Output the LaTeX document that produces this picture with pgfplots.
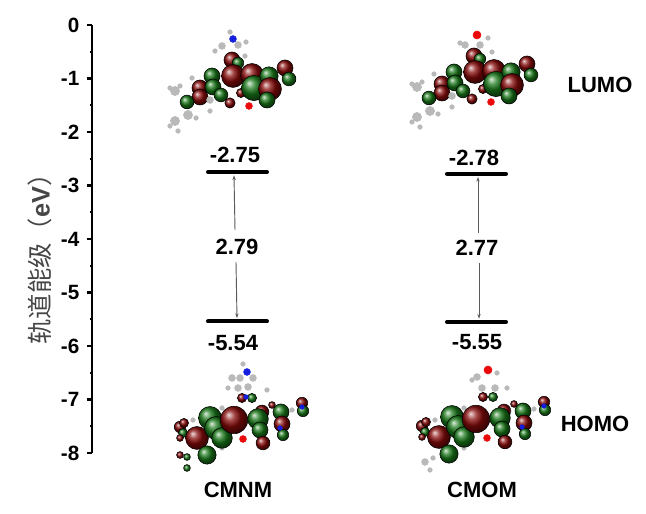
\documentclass[border=0pt]{standalone}
\usepackage{pgfplots}
\pgfplotsset{compat=1.18}
\usepackage{pgfplotstable}
\usetikzlibrary{arrows.meta}
\usepackage{fontspec}
\setmainfont{Liberation Sans}
\newfontfamily\cjk{Noto Sans CJK SC}

\definecolor{lobered}{RGB}{135,10,10}
\definecolor{lobegreen}{RGB}{25,120,25}
\definecolor{atomgray}{RGB}{185,185,185}
\definecolor{atomred}{RGB}{235,10,10}
\definecolor{atomblue}{RGB}{20,30,220}
\definecolor{arrowgray}{RGB}{90,90,90}
\definecolor{labgray}{RGB}{70,70,70}

% orbital lobes: x and y in picture pixels, r = radius in pixels
% R/G = lobe phases, A = H/C atoms, O = oxygen, B = nitrogen
\pgfplotstableread{
px py r c
170 88 2 A
180 86 2 A
175 91 4 A
192 78 2 A
188 115 4 A
175 121 4 A
170 126 2 A
178 131 2 A
196 118 2 A
210 111 2 A
222 46 3 A
238 45 3 A
246 42 2 A
215 51 2 A
245 56 2 A
230 32 2 A
233 39 3 B
200 88 7 R
200 97 7 R
212 76 7 G
213 87 7 G
187 102 6 G
221 95 6 G
210 100 3 A
232 60 7 R
238 63 5 G
233 76 10 R
252 75 10 R
230 103 4.5 R
241 93 4 R
254 88 11 G
269 76 8 G
270 89 10 R
267 100 7 G
285 68 7 R
289 79 6 G
249 106 3 O
}\lumoA

\pgfplotstableread{
px py r c
412 84 2 A
422 82 2 A
417 87 4 A
434 74 2 A
430 111 4 A
417 117 4 A
412 122 2 A
420 127 2 A
438 114 2 A
452 107 2 A
465 45 3 A
480 45 3 A
488 38 2 A
460 43 2 A
492 52 2 A
477 35 3.5 O
442 84 7 R
442 93 7 R
454 72 7 G
455 83 7 G
429 98 6 G
463 91 6 G
452 96 3 A
474 56 7 R
480 59 5 G
475 72 10 R
494 71 10 R
472 99 4.5 R
483 89 4 R
496 84 11 G
511 72 8 G
512 85 10 R
509 96 7 G
527 64 7 R
531 75 6 G
491 102 3 O
}\lumoB

\pgfplotstableread{
px py r c
243 364 2 A
247 372 3 B
232 378 3 A
240 378 3 A
253 378 3 A
228 388 2 A
238 388 3 A
248 387 3 A
267 390 2 A
242 398 4 R
252 398 4 G
246 397 2 B
222 408 2 A
193 420 2 A
222 448 2 A
180 427 5 R
184 423 4 R
183 433 4 G
180 438 3 R
197 438 10 R
207 455 8 G
180 455 3 R
187 457 3 G
187 468 3 G
210 418 10 G
216 428 10 G
222 438 9 G
234 420 12 R
262 412 6 R
258 419 9 G
260 430 7 G
263 443 6 R
243 439 3 O
272 405 3 R
281 412 7 G
282 424 7 R
283 435 5 G
280 428 2 B
292 410 2 A
302 403 5 R
303 411 5 G
302 407 2 B
}\homoA

\pgfplotstableread{
px py r c
488 370 3.5 O
477 377 3 A
497 373 2 A
472 380 2 A
482 388 3 A
495 388 3 A
507 388 2 A
483 397 4 R
493 397 4 G
464 408 2 A
435 420 2 A
464 448 2 A
425 462 3 A
430 470 2 A
433 458 2 A
422 426 5 R
426 422 4 R
425 432 4 G
422 437 3 R
439 437 10 R
449 454 8 G
452 417 10 G
458 427 10 G
464 437 9 G
476 419 12 R
504 411 6 R
500 418 9 G
502 429 7 G
505 442 6 R
487 438 3 O
514 404 3 R
523 411 7 G
524 423 7 R
525 434 5 G
522 427 2 B
534 409 2 A
544 402 5 R
545 410 5 G
544 406 2 B
}\homoB

\pgfplotsset{
  orbital/.style={
    scatter, only marks, mark=*,
    point meta=explicit symbolic,
    scatter/classes={
      R={mark=ball, ball color=lobered},
      G={mark=ball, ball color=lobegreen},
      A={mark=*, draw=atomgray, fill=atomgray},
      O={mark=*, draw=atomred, fill=atomred},
      B={mark=*, draw=atomblue, fill=atomblue}},
    visualization depends on={0.86*\thisrow{r} \as \rad},
    scatter/@pre marker code/.append style={/tikz/mark size=\rad pt},
  },
}

\begin{document}
\begin{tikzpicture}
\begin{axis}[
    x=0.75pt, y=40.125pt,
    xmin=92, xmax=640,
    ymin=-8, ymax=0,
    clip=false,
    axis x line=none,
    axis y line*=left,
    axis line style={line width=1.6pt, black},
    ytick={-8,-7,-6,-5,-4,-3,-2,-1,0},
    yticklabels={-8,-7,-6,-5,-4,-3,-2,-1,0},
    minor y tick num=1,
    tick align=outside,
    major tick length=4pt,
    minor tick length=1.5pt,
    tick style={line width=1.6pt, black},
    yticklabel style={font=\fontsize{15.5}{15.5}\selectfont\bfseries, xshift=-2pt},
  ]
  % orbital pictures
  \addplot[orbital] table[x=px, y expr=-(\thisrow{py}-25)/53.5, meta=c] {\lumoA};
  \addplot[orbital] table[x=px, y expr=-(\thisrow{py}-25)/53.5, meta=c] {\lumoB};
  \addplot[orbital] table[x=px, y expr=-(\thisrow{py}-25)/53.5, meta=c] {\homoA};
  \addplot[orbital] table[x=px, y expr=-(\thisrow{py}-25)/53.5, meta=c] {\homoB};

  % energy levels
  \addplot[black, line width=3pt, line cap=round] coordinates {(208,-2.75) (267,-2.75)};
  \addplot[black, line width=3pt, line cap=round] coordinates {(208,-5.54) (267,-5.54)};
  \addplot[black, line width=3pt, line cap=round] coordinates {(447,-2.78) (506,-2.78)};
  \addplot[black, line width=3pt, line cap=round] coordinates {(447,-5.55) (506,-5.55)};

  % gaps
  \addplot[arrowgray, line width=0.7pt, -{Stealth[length=3.5pt,width=2.5pt]}] coordinates {(235,-3.83) (234,-2.81)};
  \addplot[arrowgray, line width=0.7pt, -{Stealth[length=3.5pt,width=2.5pt]}] coordinates {(236,-4.43) (237,-5.48)};
  \addplot[arrowgray, line width=0.7pt, -{Stealth[length=3.5pt,width=2.5pt]}] coordinates {(478,-3.89) (478,-2.84)};
  \addplot[arrowgray, line width=0.7pt, -{Stealth[length=3.5pt,width=2.5pt]}] coordinates {(479,-4.45) (479,-5.49)};

  \begin{scope}[every node/.style={font=\fontsize{16.5}{16.5}\selectfont\bfseries}]
    \node at (axis cs:235,-2.43) {-2.75};
    \node at (axis cs:233,-5.94) {-5.54};
    \node at (axis cs:474,-2.49) {-2.78};
    \node at (axis cs:477,-5.93) {-5.55};
    \node at (axis cs:237,-4.15) {2.79};
    \node at (axis cs:477,-4.17) {2.77};
    \node at (axis cs:600,-1.12) {LUMO};
    \node at (axis cs:595,-7.46) {HOMO};
    \node at (axis cs:238,-8.69) {CMNM};
    \node at (axis cs:482,-8.69) {CMOM};
  \end{scope}

  \node[rotate=90, text=labgray, font=\fontsize{19}{19}\selectfont]
    at (axis cs:40,-4.26) {{\cjk 轨道能级（}\textbf{eV}{\cjk ）}};

  \coordinate (bl) at (axis cs:0,-9.140);
  \coordinate (tr) at (axis cs:646,0.467);
\end{axis}
\pgfresetboundingbox
\useasboundingbox (bl) rectangle (tr);
\end{tikzpicture}
\end{document}
